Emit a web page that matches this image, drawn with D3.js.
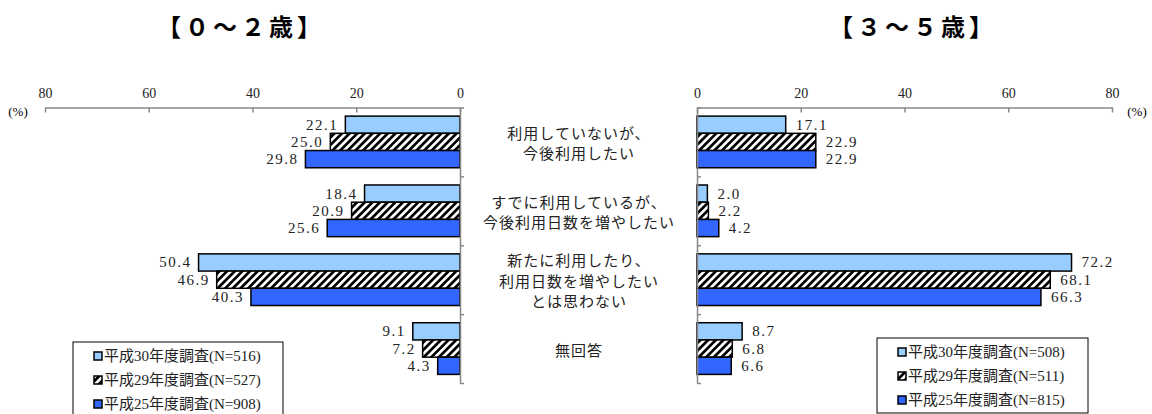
<!DOCTYPE html>
<html>
<head>
<meta charset="utf-8">
<script src="https://cdn.jsdelivr.net/npm/d3@7"></script>
<style>
  body { margin: 0; background: #fff; }
  svg { display: block; }
  .num { font-family: "Liberation Serif", serif; font-size: 15px; letter-spacing: 1.5px; fill: #222; }
  .tick text { font-family: "Liberation Serif", serif; font-size: 14px; fill: #222; }
  .cat { font-family: "Noto Sans CJK JP", sans-serif; font-size: 15px; fill: #222; letter-spacing: 1px; }
  .leg { font-family: "Liberation Serif", "Noto Sans CJK JP", serif; font-size: 15px; fill: #222; }
</style>
</head>
<body>
<svg id="chart" width="1152" height="414"></svg>
<script>
// categories (shared, shown in the middle)
const categories = [
  "利用していないが、\n今後利用したい",
  "すでに利用しているが、\n今後利用日数を増やしたい",
  "新たに利用したり、\n利用日数を増やしたい\nとは思わない",
  "無回答"
];
const axisTicks = [0, 20, 40, 60, 80];

// 0~2歳
const leftTitle = "【０～２歳】";
const leftH30 = [22.1, 18.4, 50.4, 9.1];
const leftH29 = [25.0, 20.9, 46.9, 7.2];
const leftH25 = [29.8, 25.6, 40.3, 4.3];
const leftLegend = ["平成30年度調査(N=516)", "平成29年度調査(N=527)", "平成25年度調査(N=908)"];

// 3~5歳
const rightTitle = "【３～５歳】";
const rightH30 = [17.1, 2.0, 72.2, 8.7];
const rightH29 = [22.9, 2.2, 68.1, 6.8];
const rightH25 = [22.9, 4.2, 66.3, 6.6];
const rightLegend = ["平成30年度調査(N=508)", "平成29年度調査(N=511)", "平成25年度調査(N=815)"];

const fills = ["#99CCFF", "url(#hatch)", "#3366FF"];
const fmt = d3.format(".1f");

const svg = d3.select("#chart");

// hatch pattern
const defs = svg.append("defs");
const pat = defs.append("pattern")
  .attr("id", "hatch")
  .attr("patternUnits", "userSpaceOnUse")
  .attr("width", 5.4).attr("height", 5.4)
  .attr("patternTransform", "rotate(45)");
pat.append("rect").attr("width", 5.4).attr("height", 5.4).attr("fill", "#fff");
pat.append("rect").attr("width", 2.7).attr("height", 5.4).attr("fill", "#000");

const plotTop = 107.5, plotBottom = 383;
const y = d3.scaleBand().domain(d3.range(categories.length)).range([plotTop, plotBottom]);
const yInner = d3.scaleBand().domain([0, 1, 2]).range([0, y.bandwidth()]).paddingOuter(0.5);
const yEdge = d3.scaleLinear().domain([0, categories.length]).range([plotTop, plotBottom]);

function panel(opts) {
  const { x, zeroX, series, side, title, titleX, pctX, legend, legendBox } = opts;
  const g = svg.append("g");

  // title
  svg.append("text")
    .attr("x", titleX + 2).attr("y", 25)
    .attr("text-anchor", "middle").attr("dominant-baseline", "central")
    .style("font-family", "'Noto Sans CJK JP', sans-serif")
    .style("font-size", "24px").style("font-weight", "bold")
    .style("letter-spacing", "4px")
    .text(title);

  // top axis
  const ax = g.append("g")
    .attr("transform", `translate(0,${plotTop})`)
    .call(d3.axisTop(x).tickValues(axisTicks).tickSizeInner(-5).tickSizeOuter(0).tickPadding(10));
  ax.selectAll("path, line").attr("stroke", "#888").attr("stroke-width", 1.5);

  svg.append("text")
    .attr("x", pctX).attr("y", 111)
    .attr("text-anchor", "middle").attr("dominant-baseline", "central")
    .style("font-family", "'Liberation Serif', serif").style("font-size", "13px")
    .text("(%)");

  // bars
  series.forEach((vals, si) => {
    g.selectAll(null).data(vals).enter().append("rect")
      .attr("x", d => side < 0 ? x(d) : x(0))
      .attr("y", (d, i) => y(i) + yInner(si))
      .attr("width", d => Math.abs(x(d) - x(0)))
      .attr("height", yInner.bandwidth())
      .attr("fill", fills[si])
      .attr("stroke", "#000").attr("stroke-width", 1.5);

    g.selectAll(null).data(vals).enter().append("text")
      .attr("class", "num")
      .attr("x", d => side < 0 ? x(d) - 7 : x(d) + 10)
      .attr("y", (d, i) => y(i) + yInner(si) + yInner.bandwidth() / 2)
      .attr("text-anchor", side < 0 ? "end" : "start")
      .attr("dominant-baseline", "central")
      .text(d => fmt(d));
  });

  // vertical axis with category boundary ticks
  const vax = g.append("g")
    .attr("transform", `translate(${zeroX},0)`)
    .call(d3.axisRight(yEdge).ticks(categories.length).tickFormat("").tickSizeInner(4).tickSizeOuter(0));
  vax.selectAll("path, line").attr("stroke", "#888").attr("stroke-width", 1.5);

  // legend
  const lg = svg.append("g");
  lg.append("rect")
    .attr("x", legendBox.x).attr("y", legendBox.y)
    .attr("width", legendBox.w).attr("height", legendBox.h)
    .attr("fill", "#fff").attr("stroke", "#000").attr("stroke-width", 1);
  legend.forEach((name, i) => {
    const ry = legendBox.y + 14 + i * 24;
    lg.append("rect")
      .attr("x", legendBox.x + 21).attr("y", ry - 4)
      .attr("width", 8).attr("height", 8)
      .attr("fill", fills[i]).attr("stroke", "#000").attr("stroke-width", 1.5);
    lg.append("text")
      .attr("class", "leg")
      .attr("x", legendBox.x + 31).attr("y", ry)
      .attr("dominant-baseline", "central")
      .text(name);
  });
}

const xLeft = d3.scaleLinear().domain([0, 80]).range([460, 45]);
const xRight = d3.scaleLinear().domain([0, 80]).range([697, 1112]);

panel({
  x: xLeft, zeroX: 460, side: -1,
  series: [leftH30, leftH29, leftH25],
  title: leftTitle, titleX: 239, pctX: 18,
  legend: leftLegend,
  legendBox: { x: 73, y: 342, w: 210, h: 74 }
});

panel({
  x: xRight, zeroX: 697, side: 1,
  series: [rightH30, rightH29, rightH25],
  title: rightTitle, titleX: 911, pctX: 1137,
  legend: rightLegend,
  legendBox: { x: 877, y: 338, w: 211, h: 75 }
});

// category labels in the middle
const catG = svg.append("g");
categories.forEach((c, i) => {
  const lines = c.split("\n");
  const cy = y(i) + y.bandwidth() / 2;
  const t = catG.append("text")
    .attr("class", "cat")
    .attr("text-anchor", "middle")
    .attr("dominant-baseline", "central");
  lines.forEach((ln, j) => {
    t.append("tspan")
      .attr("x", 579)
      .attr("y", cy + (j - (lines.length - 1) / 2) * 20.5)
      .text(ln);
  });
});
</script>
</body>
</html>
